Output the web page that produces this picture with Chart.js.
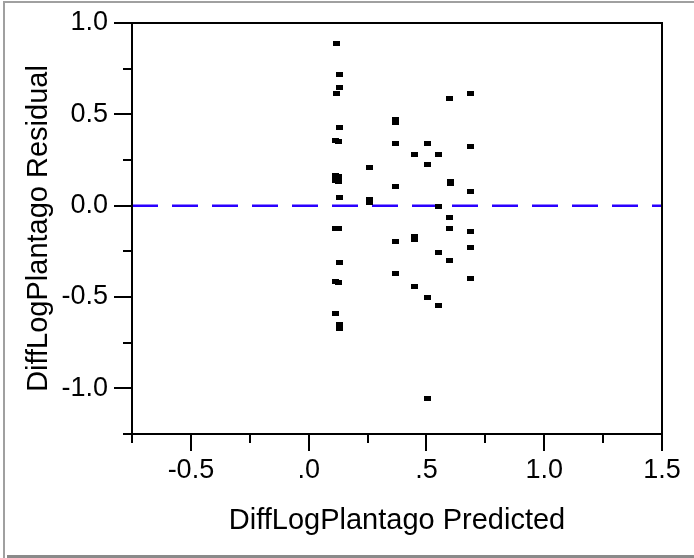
<!DOCTYPE html>
<html>
<head>
<meta charset="utf-8">
<title>DiffLogPlantago Residual by Predicted</title>
<script src="https://cdn.jsdelivr.net/npm/chart.js@4.4.0/dist/chart.umd.min.js"></script>
<style>
  html, body { margin: 0; padding: 0; background: #fff; }
</style>
</head>
<body>
<canvas id="chart" width="694" height="558"></canvas>
<script>
// ======== Data ========
const predicted = [
  0.12, 0.13, 0.13, 0.12, 0.13, 0.115, 0.125, 0.115, 0.125, 0.115, 0.125, 0.13,
  0.115, 0.125, 0.13, 0.115, 0.125, 0.115, 0.13, 0.13,
  0.257, 0.257, 0.257,
  0.37, 0.37, 0.37, 0.37, 0.37, 0.37,
  0.45, 0.45, 0.45, 0.45,
  0.506, 0.506, 0.506, 0.506,
  0.552, 0.552, 0.552, 0.552,
  0.597, 0.6, 0.6, 0.597, 0.597, 0.597,
  0.687, 0.687, 0.687, 0.687, 0.687, 0.687
];
const residual = [
  0.89, 0.72, 0.645, 0.615, 0.43, 0.355, 0.35, 0.165, 0.16, 0.14, 0.135, 0.045,
  -0.125, -0.125, -0.31, -0.415, -0.42, -0.59, -0.65, -0.675,
  0.21, 0.035, 0.02,
  0.47, 0.455, 0.34, 0.107, -0.198, -0.371,
  0.28, -0.168, -0.186, -0.444,
  0.339, 0.223, -0.502, -1.053,
  0.28, -0.007, -0.255, -0.545,
  0.585, 0.135, 0.12, -0.067, -0.125, -0.299,
  0.614, 0.324, 0.078, -0.14, -0.227, -0.4
];
const zeroLine = [{ x: -0.75, y: 0 }, { x: 1.5, y: 0 }];

const xTickValues = [-0.5, 0, 0.5, 1, 1.5];
const xTickLabels = ['-0.5', '.0', '.5', '1.0', '1.5'];
const yTickValues = [-1, -0.5, 0, 0.5, 1];
const yTickLabels = ['-1.0', '-0.5', '0.0', '0.5', '1.0'];

// ======== Marker ========
const marker = document.createElement('canvas');
marker.width = 7; marker.height = 5;
marker.getContext('2d').fillRect(0, 0, 7, 5);

function labelFor(values, labels, v) {
  const i = values.findIndex(t => Math.abs(t - v) < 1e-6);
  return i < 0 ? '' : labels[i];
}
function isMajor(v) { return Math.abs(v * 2 - Math.round(v * 2)) < 1e-6; }

const FAMILY = '"Liberation Sans", Arial, sans-serif';
const TICK_FONT = { family: FAMILY, size: 27 };
const TITLE_FONT = { family: FAMILY, size: 29 };

// frame, ticks and panel border
const frame = {
  id: 'frame',
  afterDraw(c) {
    const { ctx, chartArea: a, scales: { x, y } } = c;
    ctx.save();
    ctx.strokeStyle = '#000';
    ctx.lineWidth = 2;
    ctx.strokeRect(a.left, a.top, a.right - a.left, a.bottom - a.top);
    ctx.beginPath();
    x.ticks.forEach(t => {
      const px = Math.round(x.getPixelForValue(t.value));
      ctx.moveTo(px, a.bottom);
      ctx.lineTo(px, a.bottom + (isMajor(t.value) ? 17 : 9));
    });
    y.ticks.forEach(t => {
      const py = Math.round(y.getPixelForValue(t.value));
      ctx.moveTo(a.left, py);
      ctx.lineTo(a.left - (isMajor(t.value) ? 18 : 9), py);
    });
    ctx.stroke();
    ctx.fillStyle = '#a0a0a0';
    ctx.fillRect(3, 1, 691, 2);
    ctx.fillRect(3, 1, 2, 557);
    ctx.fillStyle = '#8a8a8a';
    ctx.fillRect(7, 555, 687, 3);
    ctx.restore();
  }
};

new Chart(document.getElementById('chart').getContext('2d'), {
  type: 'scatter',
  data: {
    datasets: [{
      data: predicted.map((p, i) => ({ x: p, y: residual[i] })),
      pointStyle: marker,
      pointRadius: 3,
      order: 0
    }, {
      type: 'line',
      data: zeroLine,
      borderColor: '#2a00ff',
      borderWidth: 2.5,
      borderDash: [26, 14],
      pointRadius: 0,
      order: 1
    }]
  },
  options: {
    responsive: false,
    animation: false,
    devicePixelRatio: 1,
    layout: { padding: { top: 23, right: 32, left: 0, bottom: 0 } },
    plugins: { legend: { display: false }, tooltip: { enabled: false } },
    scales: {
      x: {
        type: 'linear', min: -0.75, max: 1.5,
        afterFit(s) { s.height = 124; },
        grid: { drawOnChartArea: false, color: 'rgba(0,0,0,0)', tickLength: 17 },
        border: { display: false },
        ticks: {
          stepSize: 0.25, autoSkip: false, maxRotation: 0, padding: 3,
          color: '#000', font: TICK_FONT,
          callback: v => labelFor(xTickValues, xTickLabels, v)
        },
        title: {
          display: true, text: 'DiffLogPlantago Predicted', color: '#000',
          font: TITLE_FONT, padding: { top: 0, bottom: 20 }
        }
      },
      y: {
        type: 'linear', min: -1.25, max: 1.0,
        afterFit(s) { s.width = 132; },
        grid: { drawOnChartArea: false, color: 'rgba(0,0,0,0)', tickLength: 18 },
        border: { display: false },
        ticks: {
          stepSize: 0.25, autoSkip: false, padding: 6,
          color: '#000', font: TICK_FONT,
          callback: v => labelFor(yTickValues, yTickLabels, v)
        },
        title: {
          display: true, text: 'DiffLogPlantago Residual', color: '#000',
          font: TITLE_FONT, padding: { top: 22, bottom: 0 }
        }
      }
    }
  },
  plugins: [frame]
});
</script>
</body>
</html>
